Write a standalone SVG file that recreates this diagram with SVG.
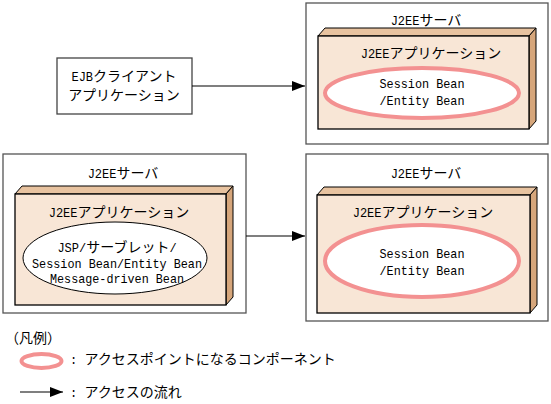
<svg xmlns="http://www.w3.org/2000/svg" width="551" height="404" viewBox="0 0 551 404">
<style>
text{font-family:"Noto Sans CJK JP","Liberation Sans",sans-serif;font-size:14px;fill:#000}
.m{font-family:"Liberation Mono","Noto Sans CJK JP",monospace;font-size:13.5px}
.t{font-family:"Liberation Mono","Noto Sans CJK JP",monospace;font-size:12px}
.c{text-anchor:middle}
.srv{fill:#fff;stroke:#555;stroke-width:1.3}
.front{fill:#f8e6d6;stroke:#000;stroke-width:1.3}
.top{fill:#e8c3a0;stroke:#000;stroke-width:1}
.side{fill:#d6a67b;stroke:#000;stroke-width:1}
.ap{fill:#fff;stroke:#f39191;stroke-width:4}
.el{fill:#fff;stroke:#000;stroke-width:1}
.cn{stroke:#000;stroke-width:1.2;fill:none}
</style>
<defs>
<marker id="ah" markerUnits="userSpaceOnUse" markerWidth="13" markerHeight="10" refX="13" refY="5" orient="auto">
<path d="M0,0 L13,5 L0,10 z" fill="#000"/>
</marker>
</defs>

<g id="ejb-client">
<rect x="57" y="58" width="135" height="56" fill="#fff" stroke="#444" stroke-width="1.3"/>
<text class="c" x="124" y="81"><tspan class="t">EJB</tspan>クライアント</text>
<text class="c" x="124" y="100">アプリケーション</text>
</g>

<g id="server-top-right">
<rect class="srv" x="306" y="3" width="242" height="141"/>
<text class="c" x="426" y="25"><tspan class="t">J2EE</tspan>サーバ</text>
<g id="app-top-right">
<polygon class="top" points="318,36 325,28 536,28 529,36"/>
<polygon class="side" points="529,36 536,28 536,121 529,129"/>
<rect class="front" x="318" y="36" width="211" height="93"/>
<text class="c" x="431" y="58"><tspan class="t">J2EE</tspan>アプリケーション</text>
<g id="bean-top-right">
<ellipse class="ap" cx="422" cy="93" rx="97" ry="25"/>
<text class="m c" x="422" y="88" textLength="85" lengthAdjust="spacingAndGlyphs">Session Bean</text>
<text class="m c" x="422" y="105" textLength="85" lengthAdjust="spacingAndGlyphs">/Entity Bean</text>
</g>
</g>
</g>

<g id="server-left">
<rect class="srv" x="3" y="154" width="243" height="159"/>
<text class="c" x="123" y="178"><tspan class="t">J2EE</tspan>サーバ</text>
<g id="app-left">
<polygon class="top" points="15,194 22,186 233,186 226,194"/>
<polygon class="side" points="226,194 233,186 233,297 226,305"/>
<rect class="front" x="15" y="194" width="211" height="111"/>
<text class="c" x="119" y="217"><tspan class="t">J2EE</tspan>アプリケーション</text>
<g id="components-left">
<ellipse class="el" cx="115" cy="258" rx="92" ry="36"/>
<text class="c" x="117" y="252"><tspan class="t">JSP/</tspan>サーブレット<tspan class="t">/</tspan></text>
<text class="m c" x="117" y="268" textLength="170" lengthAdjust="spacingAndGlyphs">Session Bean/Entity Bean</text>
<text class="m c" x="117" y="283" textLength="134" lengthAdjust="spacingAndGlyphs">Message-driven Bean</text>
</g>
</g>
</g>

<g id="server-bottom-right">
<rect class="srv" x="306" y="154" width="242" height="167"/>
<text class="c" x="426" y="178"><tspan class="t">J2EE</tspan>サーバ</text>
<g id="app-bottom-right">
<polygon class="top" points="317,195 324,187 537,187 530,195"/>
<polygon class="side" points="530,195 537,187 537,305 530,313"/>
<rect class="front" x="317" y="195" width="213" height="118"/>
<text class="c" x="423" y="217"><tspan class="t">J2EE</tspan>アプリケーション</text>
<g id="bean-bottom-right">
<ellipse class="ap" cx="422" cy="261" rx="97" ry="36"/>
<text class="m c" x="422" y="258" textLength="85" lengthAdjust="spacingAndGlyphs">Session Bean</text>
<text class="m c" x="422" y="275" textLength="85" lengthAdjust="spacingAndGlyphs">/Entity Bean</text>
</g>
</g>
</g>

<g id="connectors">
<line class="cn" x1="192" y1="86" x2="305" y2="86" marker-end="url(#ah)"/>
<line class="cn" x1="246" y1="236" x2="305" y2="236" marker-end="url(#ah)"/>
</g>

<g id="legend">
<text x="5" y="343">（凡例）</text>
<ellipse class="ap" cx="41.5" cy="361" rx="20" ry="7" stroke-width="3.5"/>
<text x="70" y="364"><tspan class="t">: </tspan>アクセスポイントになるコンポーネント</text>
<line class="cn" x1="20" y1="392" x2="63" y2="392" marker-end="url(#ah)"/>
<text x="70" y="397"><tspan class="t">: </tspan>アクセスの流れ</text>
</g>
</svg>
